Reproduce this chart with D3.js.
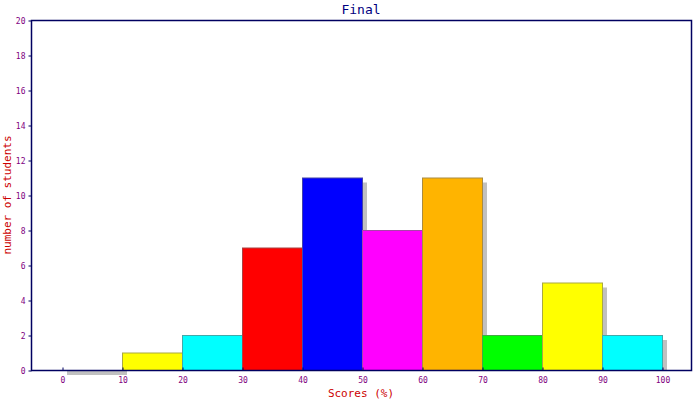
<!DOCTYPE html>
<html lang="en">
<head>
  <meta charset="UTF-8">
  <title>Final</title>
  <script src="https://d3js.org/d3.v7.min.js"></script>
  <style>
      body { margin: 0; padding: 0; overflow: hidden; background: #fff; }
      svg { display: block; }
      text { font-family: 'DejaVu Sans Mono', monospace; }
  </style>
</head>
<body>
  <svg width="700" height="400"></svg>
  <script>
      // Histogram bins (lower edge of each 10-point band) and counts
      const binStarts = [0, 10, 20, 30, 40, 50, 60, 70, 80, 90];
      const counts = [0, 1, 2, 7, 11, 8, 11, 2, 5, 2];
      const binColors = ["#ff00ff", "#ffff00", "#00ffff", "#ff0000", "#0000ff",
                         "#ff00ff", "#ffb400", "#00ff00", "#ffff00", "#00ffff"];
      const xTicks = [0, 10, 20, 30, 40, 50, 60, 70, 80, 90, 100];
      const yTicks = [0, 2, 4, 6, 8, 10, 12, 14, 16, 18, 20];

      const svg = d3.select("svg");
      const margin = { left: 31, right: 691, top: 20, bottom: 370 };

      const x = d3.scaleLinear().domain([-5, 105]).range([margin.left + 1, margin.right + 1]);
      const y = d3.scaleLinear().domain([0, 20]).range([margin.bottom, margin.top]);

      const axisColor = "#000060";
      const tickColor = "#800080";
      const shadow = 5;

      // Shadows first, bars on top
      svg.append("g")
          .selectAll("rect")
          .data(binStarts)
          .join("rect")
          .attr("x", (d) => x(d) + shadow)
          .attr("width", (d) => x(d + 10) - x(d))
          .attr("y", (d, i) => counts[i] > 0 ? y(counts[i]) + shadow : y(0))
          .attr("height", (d, i) => counts[i] > 0 ? y(0) - y(counts[i]) - shadow : shadow)
          .attr("fill", "#c0c0c0");

      svg.append("g")
          .selectAll("rect")
          .data(binStarts)
          .join("rect")
          .attr("x", (d) => x(d) + 0.5)
          .attr("width", (d) => x(d + 10) - x(d))
          .attr("y", (d, i) => y(counts[i]) + 0.5)
          .attr("height", (d, i) => y(0) - y(counts[i]))
          .attr("fill", (d, i) => binColors[i])
          .attr("stroke", (d, i) => d3.interpolateRgb(binColors[i], "#707070")(0.6))
          .attr("stroke-width", 1)
          .style("display", (d, i) => counts[i] > 0 ? null : "none");

      // Plot frame
      svg.append("rect")
          .attr("x", margin.left + 0.5)
          .attr("y", margin.top + 0.5)
          .attr("width", margin.right - margin.left)
          .attr("height", margin.bottom - margin.top)
          .attr("fill", "none")
          .attr("stroke", axisColor)
          .attr("stroke-width", 1.5);

      // Axes
      const xAxis = svg.append("g")
          .attr("transform", `translate(0.5,${margin.bottom + 0.5})`)
          .call(d3.axisBottom(x).tickValues(xTicks).tickSize(-3).tickPadding(7));
      const yAxis = svg.append("g")
          .attr("transform", `translate(${margin.left + 0.5},0.5)`)
          .call(d3.axisLeft(y).tickValues(yTicks).tickSize(3).tickPadding(3));

      [xAxis, yAxis].forEach((g) => {
          g.select(".domain").remove();
          g.selectAll(".tick line").attr("stroke", axisColor);
          g.selectAll(".tick text")
              .attr("fill", tickColor)
              .style("font-size", "8px")
              .style("font-family", "'DejaVu Sans Mono', monospace");
      });

      // Titles
      svg.append("text")
          .attr("x", (margin.left + margin.right) / 2)
          .attr("y", 14)
          .attr("text-anchor", "middle")
          .attr("fill", "#000080")
          .style("font-size", "13px")
          .text("Final");

      svg.append("text")
          .attr("x", (margin.left + margin.right) / 2)
          .attr("y", 397)
          .attr("text-anchor", "middle")
          .attr("fill", "#cc0000")
          .style("font-size", "11px")
          .text("Scores (%)");

      svg.append("text")
          .attr("transform", `translate(11,${(margin.top + margin.bottom) / 2}) rotate(-90)`)
          .attr("text-anchor", "middle")
          .attr("fill", "#cc0000")
          .style("font-size", "11px")
          .text("number of students");
  </script>
</body>
</html>
